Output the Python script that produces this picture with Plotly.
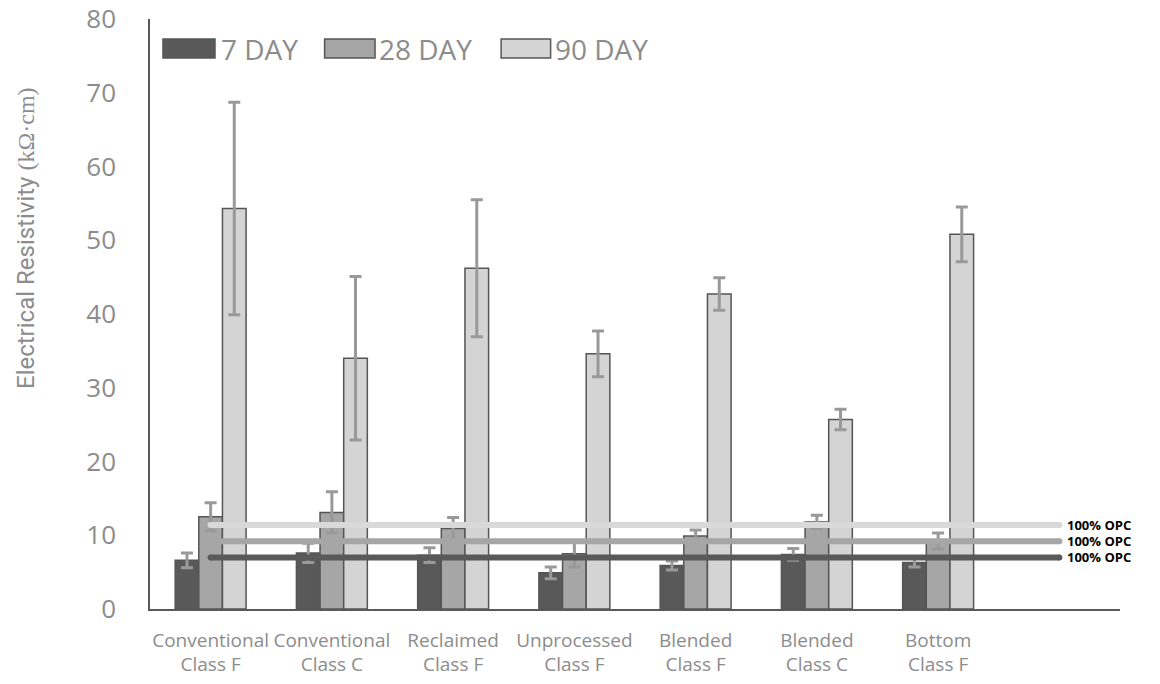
import plotly.graph_objects as go

# Fly-ash sources (x-axis categories)
categories = [
    "Conventional<br>Class F",
    "Conventional<br>Class C",
    "Reclaimed<br>Class F",
    "Unprocessed<br>Class F",
    "Blended<br>Class F",
    "Blended<br>Class C",
    "Bottom<br>Class F",
]

# Surface resistivity (kΩ·cm) and standard deviations per curing age
day7 = [6.6, 7.6, 7.3, 4.9, 5.9, 7.4, 6.3]
day7_sd = [1.0, 1.3, 1.0, 0.8, 0.6, 0.8, 0.6]
day28 = [12.5, 13.1, 10.9, 7.5, 9.9, 11.8, 9.2]
day28_sd = [1.9, 2.8, 1.5, 1.8, 0.8, 0.9, 1.1]
day90 = [54.3, 34.0, 46.2, 34.6, 42.7, 25.7, 50.8]
day90_sd = [14.4, 11.1, 9.3, 3.1, 2.2, 1.4, 3.7]

# 100% OPC reference values per curing age
opc_ref = {"7 DAY": 7.0, "28 DAY": 9.2, "90 DAY": 11.4}

fills = {"7 DAY": "#595959", "28 DAY": "#A6A6A6", "90 DAY": "#D4D4D4"}
ref_colors = {"7 DAY": "#595959", "28 DAY": "#A6A6A6", "90 DAY": "#D9D9D9"}
outline = "#555555"
err_color = "#999999"
text_grey = "#8C8C8C"
FONT = "Open Sans"
TITLE_FONT = "Roboto"

x_pos = list(range(len(categories)))
n_slots = len(categories) + 1  # one spare slot on the right for the reference labels

ML, MR, MT, MB = 150, 40, 19, 75
plot_w = 1160 - ML - MR
plot_h = 684 - MT - MB

fig = go.Figure()

for name, vals, sd in [("7 DAY", day7, day7_sd), ("28 DAY", day28, day28_sd), ("90 DAY", day90, day90_sd)]:
    fig.add_trace(go.Bar(
        name=name,
        x=x_pos,
        y=vals,
        marker=dict(color=fills[name], line=dict(color=outline, width=1.5)),
        error_y=dict(type="data", array=sd, visible=True, color=err_color, thickness=3, width=6),
        showlegend=False,
    ))

# Horizontal 100% OPC reference lines, drawn above the bars
for name in ["90 DAY", "28 DAY", "7 DAY"]:
    v = opc_ref[name]
    fig.add_trace(go.Scatter(
        x=[0, n_slots - 1],
        y=[v, v],
        mode="lines+markers",
        line=dict(color=ref_colors[name], width=6),
        marker=dict(color=ref_colors[name], size=6),
        showlegend=False,
        hoverinfo="skip",
    ))
    fig.add_annotation(
        x=n_slots - 1, y=v, xref="x", yref="y",
        text="<b>100% OPC</b>", showarrow=False,
        xanchor="left", yanchor="middle", xshift=6,
        font=dict(family=FONT, size=13, color="#000000"),
    )

# Legend: swatches and labels across the top of the plot area
legend_items = [
    ("7 DAY", 0.0134, 0.067, 0.071),
    ("28 DAY", 0.180, 0.232, 0.234),
    ("90 DAY", 0.362, 0.413, 0.415),
]
for name, x0, x1, tx in legend_items:
    fig.add_shape(
        type="rect", xref="paper", yref="paper",
        x0=x0, x1=x1, y0=0.934, y1=0.966,
        fillcolor=fills[name], line=dict(color=outline, width=1.5),
    )
    fig.add_annotation(
        x=tx, y=0.95, xref="paper", yref="paper",
        text=name, showarrow=False, xanchor="left", yanchor="middle",
        font=dict(family=FONT, size=28, color=text_grey),
    )

# Y-axis title, placed to the left of the tick labels
fig.add_annotation(
    x=(26 - ML) / plot_w, y=(609 - 238) / plot_h, xref="paper", yref="paper",
    xanchor="center", yanchor="middle",
    text="Electrical Resistivity <span style='font-family:Liberation Serif'>(kΩ·cm)</span>",
    showarrow=False, textangle=-90,
    font=dict(family=TITLE_FONT, size=24, color=text_grey),
)

fig.update_layout(
    width=1160, height=684,
    margin=dict(l=ML, r=MR, t=MT, b=MB),
    plot_bgcolor="white", paper_bgcolor="white",
    barmode="group", bargap=0.415, bargroupgap=0,
    font=dict(family=FONT, color=text_grey),
)

fig.update_xaxes(
    range=[-0.5, n_slots - 0.5],
    tickmode="array", tickvals=x_pos, ticktext=categories,
    tickfont=dict(family=FONT, size=19, color=text_grey),
    tickangle=0,
    showgrid=False, zeroline=False,
    showline=True, linecolor="#595959", linewidth=1.5,
    ticks="", ticklabelstandoff=13, automargin=False,
)

fig.update_yaxes(
    range=[0, 80], dtick=10,
    tickfont=dict(family=FONT, size=26, color=text_grey),
    showgrid=False, zeroline=False,
    showline=True, linecolor="#595959", linewidth=1.5,
    ticks="", ticklabelstandoff=27, automargin=False,
)

fig.write_html("out.html")
